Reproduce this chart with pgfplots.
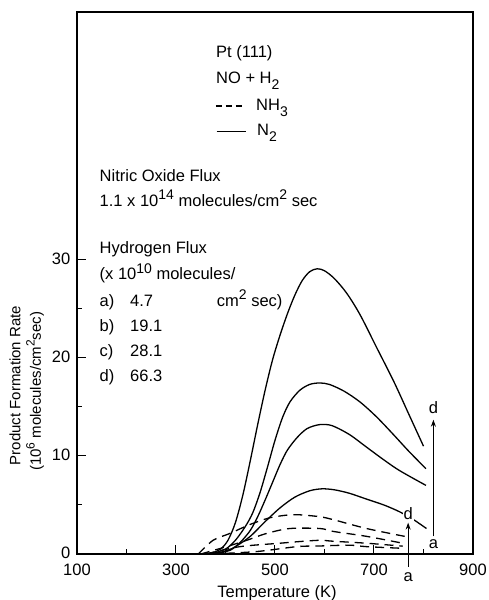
\documentclass[border=0pt]{standalone}
\usepackage{pgfplots}
\pgfplotsset{compat=1.18}
\usetikzlibrary{arrows.meta}
\usepackage{fontspec}
\setmainfont{Liberation Sans}
\newcommand\sups[1]{\raisebox{0.42em}{\fontsize{14}{14}\selectfont #1}}
\newcommand\subs[1]{\raisebox{-0.32em}{\fontsize{14}{14}\selectfont #1}}
\begin{document}
\fontsize{16.5}{19}\selectfont
\begin{tikzpicture}
\path[use as bounding box] (-77pt,-46pt) rectangle (411pt,554pt);
\begin{axis}[
  at={(0pt,0pt)}, anchor=south west,
  scale only axis, width=396pt, height=542pt,
  xmin=100, xmax=900, ymin=0, ymax=55.3,
  xtick={100,300,500,700,900}, minor xtick={200,400,600,800},
  ytick={0,10,20,30}, minor ytick={5,15,25},
  tick pos=left, tick align=inside,
  major tick length=9pt, minor tick length=5pt,
  every tick/.style={black, line width=1pt},
  axis line style={line width=1.2pt},
  clip=false,
  tick label style={font=\fontsize{16.5}{19}\selectfont},
  xticklabel style={yshift=-4pt},
  yticklabel style={xshift=-1pt, yshift=1pt},
  /pgf/number format/assume math mode=true,
]
% N2 solid curves
\addplot[black, line width=1.3pt, smooth, tension=0.5] coordinates {
(340,0) (370,0.1) (390,0.5) (405,1.4) (420,3.2) (435,6.0) (450,9.5) (465,13.2) (480,16.7) (495,19.8) (510,22.3) (525,24.5) (540,26.4) (555,27.9) (570,28.8) (585,29.1) (600,28.9) (620,28.1) (645,26.6) (672,24.4) (705,21.1) (740,17.6) (770,14.3) (800,11.0)};
\addplot[black, line width=1.3pt, smooth, tension=0.5] coordinates {
(370,0) (400,0.5) (420,1.4) (440,2.8) (455,4.2) (470,6.3) (485,8.9) (500,11.6) (515,13.9) (530,15.5) (550,16.7) (570,17.3) (590,17.45) (610,17.3) (640,16.6) (672,15.5) (705,14.0) (739,12.2) (770,10.5) (805,8.7)};
\addplot[black, line width=1.3pt, smooth, tension=0.5] coordinates {
(380,0) (410,0.4) (430,1.2) (450,2.4) (465,3.8) (480,5.5) (495,7.3) (510,9.1) (525,10.6) (545,11.9) (565,12.8) (590,13.2) (615,13.1) (650,12.2) (685,10.9) (720,9.6) (752,8.5) (805,7.0)};
\addplot[black, line width=1.3pt, smooth, tension=0.5] coordinates {
(370,0) (400,0.3) (420,0.75) (450,1.8) (480,3.3) (510,4.7) (540,5.8) (570,6.45) (595,6.65) (620,6.55) (650,6.2) (685,5.6) (720,5.0) (752,4.3) (780,3.5) (806,2.6)};
% NH3 dashed curves
\addplot[black, line width=1.3pt, smooth, tension=0.5, dash pattern=on 9pt off 6pt] coordinates {
(345,0) (375,1.4) (409,2.1) (449,3.0) (490,3.7) (530,4.0) (550,4.0) (591,3.8) (618,3.5) (685,2.6) (762,1.8)};
\addplot[black, line width=1.3pt, smooth, tension=0.5, dash pattern=on 9pt off 6pt] coordinates {
(350,0) (402,0.75) (443,1.4) (483,2.1) (530,2.6) (591,2.6) (618,2.3) (685,1.8) (758,1.1)};
\addplot[black, line width=1.3pt, smooth, tension=0.5, dash pattern=on 9pt off 6pt] coordinates {
(360,0) (429,0.75) (510,1.1) (550,1.27) (591,1.4) (618,1.3) (685,1.1) (758,0.8)};
\addplot[black, line width=1.3pt, smooth, tension=0.5, dash pattern=on 9pt off 6pt] coordinates {
(370,0) (463,0.25) (544,0.75) (591,0.82) (650,0.9) (685,0.75) (758,0.58)};
% arrows
\draw[-{Stealth[length=7pt,width=5pt]}, line width=1pt] (axis cs:769,-1.3) -- (axis cs:769,3.2);
\node[fill=white, inner sep=1pt] at (axis cs:769,4.1) {d};
\node at (axis cs:769,-2.4) {a};
\draw[-{Stealth[length=7pt,width=5pt]}, line width=1pt] (axis cs:820,1.8) -- (axis cs:820,13.7);
\node at (axis cs:820,14.9) {d};
\node[fill=white, inner sep=1pt] at (axis cs:820,1.0) {a};
% legend
\node[anchor=base west, inner sep=0] at (axis cs:380.8,50.7) {Pt (111)};
\node[anchor=base west, inner sep=0] at (axis cs:380.8,47.96) {NO + H\subs{2}};
\draw[line width=1.2pt, dash pattern=on 6pt off 4pt] (axis cs:380.8,45.7) -- (axis cs:441.4,45.7);
\node[anchor=base west, inner sep=0] at (axis cs:461.6,45.2) {NH\subs{3}};
\draw[line width=1.2pt] (axis cs:382,43.1) -- (axis cs:441.4,43.1);
\node[anchor=base west, inner sep=0] at (axis cs:463.6,42.65) {N\subs{2}};
% texts
\node[anchor=base west, inner sep=0] at (axis cs:145.5,38.0) {Nitric Oxide Flux};
\node[anchor=base west, inner sep=0] at (axis cs:145.5,35.44) {1.1 x 10\sups{14} molecules/cm\sups{2} sec};
\node[anchor=base west, inner sep=0] at (axis cs:145.5,30.7) {Hydrogen Flux};
\node[anchor=base west, inner sep=0] at (axis cs:145.5,27.96) {(x 10\sups{10} molecules/};
\node[anchor=base west, inner sep=0] at (axis cs:145.5,25.23) {a)};
\node[anchor=base west, inner sep=0] at (axis cs:207.1,25.23) {4.7};
\node[anchor=base west, inner sep=0] at (axis cs:382.2,25.23) {cm\sups{2} sec)};
\node[anchor=base west, inner sep=0] at (axis cs:145.5,22.68) {b)};
\node[anchor=base west, inner sep=0] at (axis cs:207.1,22.68) {19.1};
\node[anchor=base west, inner sep=0] at (axis cs:145.5,20.13) {c)};
\node[anchor=base west, inner sep=0] at (axis cs:207.1,20.13) {28.1};
\node[anchor=base west, inner sep=0] at (axis cs:145.5,17.58) {d)};
\node[anchor=base west, inner sep=0] at (axis cs:207.1,17.58) {66.3};
% axis labels
\node[anchor=base] at (axis cs:504,-4.46) {Temperature (K)};
\node[rotate=90, font=\fontsize{15}{17}\selectfont] at (axis cs:-25.3,17.2) {Product Formation Rate};
\node[rotate=90, font=\fontsize{15}{17}\selectfont] at (axis cs:15.2,16.6) {(10\raisebox{0.42em}{\fontsize{12}{12}\selectfont 6} molecules/cm\raisebox{0.42em}{\fontsize{12}{12}\selectfont 2}sec)};
\end{axis}
\end{tikzpicture}
\end{document}
